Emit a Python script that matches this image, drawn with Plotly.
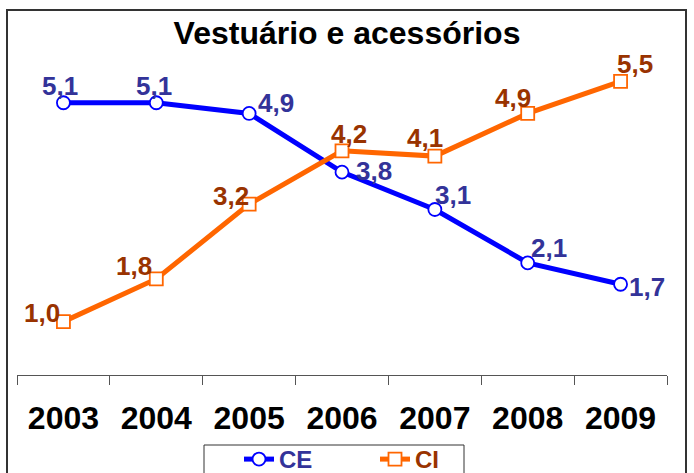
import plotly.graph_objects as go

years = ["2003", "2004", "2005", "2006", "2007", "2008", "2009"]
ce_values = [5.1, 5.1, 4.9, 3.8, 3.1, 2.1, 1.7]
ci_values = [1.0, 1.8, 3.2, 4.2, 4.1, 4.9, 5.5]
ce_labels = ["5,1", "5,1", "4,9", "3,8", "3,1", "2,1", "1,7"]
ci_labels = ["1,0", "1,8", "3,2", "4,2", "4,1", "4,9", "5,5"]
title_text = "Vestuário e acessórios"

# label offsets in pixels (style)
ce_dx = [-3, -2, 27, 32, 18, 21, 26]
ce_dy = [17, 17, 10, 1, 15, 15, -3]
ci_dx = [-21, -22, -18, 7, -10, -15, 14]
ci_dy = [9, 13, 8, 17, 18, 15, 17]

FONT = "Arial, Liberation Sans, sans-serif"
CE_COLOR = "#0000FF"
CI_COLOR = "#FF6600"
CE_TEXT = "#333399"
CI_TEXT = "#993300"

PLOT_L, PLOT_R, PLOT_T, PLOT_B = 17, 667, 28, 375
PW, PH = PLOT_R - PLOT_L, PLOT_B - PLOT_T


def px(x):
    return (x - PLOT_L) / PW


def py(y):
    return (PLOT_B - y) / PH


fig = go.Figure()
fig.add_trace(go.Scatter(
    x=years, y=ce_values, name="<b><span style='color:%s'>CE</span></b>" % CE_TEXT,
    mode="lines+markers",
    line=dict(color=CE_COLOR, width=5),
    marker=dict(symbol="circle", size=13, color="white",
                line=dict(color=CE_COLOR, width=1.8)),
))
fig.add_trace(go.Scatter(
    x=years, y=ci_values, name="<b><span style='color:%s'>CI</span></b>" % CI_TEXT,
    mode="lines+markers",
    line=dict(color=CI_COLOR, width=5),
    marker=dict(symbol="square", size=13, color="white",
                line=dict(color=CI_COLOR, width=1.8)),
))

# annotations on a category axis use the category serial number
annotations = []
for i, (y, t, dx, dy) in enumerate(zip(ce_values, ce_labels, ce_dx, ce_dy)):
    annotations.append(dict(x=i, y=y, xref="x", yref="y", text="<b>%s</b>" % t,
                            showarrow=False, xshift=dx, yshift=dy,
                            font=dict(family=FONT, size=26, color=CE_TEXT)))
for i, (y, t, dx, dy) in enumerate(zip(ci_values, ci_labels, ci_dx, ci_dy)):
    annotations.append(dict(x=i, y=y, xref="x", yref="y", text="<b>%s</b>" % t,
                            showarrow=False, xshift=dx, yshift=dy,
                            font=dict(family=FONT, size=26, color=CI_TEXT)))

fig.update_layout(
    width=694, height=473,
    margin=dict(l=PLOT_L, r=694 - PLOT_R, t=PLOT_T, b=473 - PLOT_B, autoexpand=False),
    paper_bgcolor="white", plot_bgcolor="white",
    title=dict(text="<b>%s</b>" % title_text, x=0.5, xref="container",
               xanchor="center", y=1 - 33 / 473, yanchor="middle",
               font=dict(family=FONT, size=32, color="black")),
    showlegend=True,
    legend=dict(orientation="h", x=px(239), xanchor="left",
                y=py(437), yanchor="top",
                bgcolor="rgba(0,0,0,0)", borderwidth=0,
                font=dict(family=FONT, size=24, color="black"),
                entrywidth=91, entrywidthmode="pixels"),
    annotations=annotations,
    font=dict(family=FONT),
)
fig.update_xaxes(
    type="category", range=[-0.5, 6.5], showgrid=False, zeroline=False,
    showline=True, linecolor="#555555", linewidth=1,
    ticks="outside", tickson="boundaries", ticklen=9, tickcolor="#555555",
    tickfont=dict(family=FONT, size=32, color="black"),
    ticktext=["<b>%s</b>" % y for y in years], tickvals=years,
    ticklabelstandoff=15,
)
fig.update_yaxes(range=[0, 6.5], showgrid=False, zeroline=False, showline=False,
                 ticks="", showticklabels=False)

# legend frame
fig.add_shape(type="rect", xref="paper", yref="paper",
              x0=px(204), x1=px(464), y0=py(490), y1=py(445),
              line=dict(color="#333333", width=1), fillcolor="white",
              layer="below")
# outer chart frame
fig.add_shape(type="rect", xref="paper", yref="paper",
              x0=px(7), x1=px(686), y0=py(490), y1=py(10),
              line=dict(color="#333333", width=2), fillcolor="rgba(0,0,0,0)",
              layer="below")

fig.write_html("out.html", config={"displayModeBar": False},
               post_script="document.body.style.margin='0';document.body.style.padding='0';")
